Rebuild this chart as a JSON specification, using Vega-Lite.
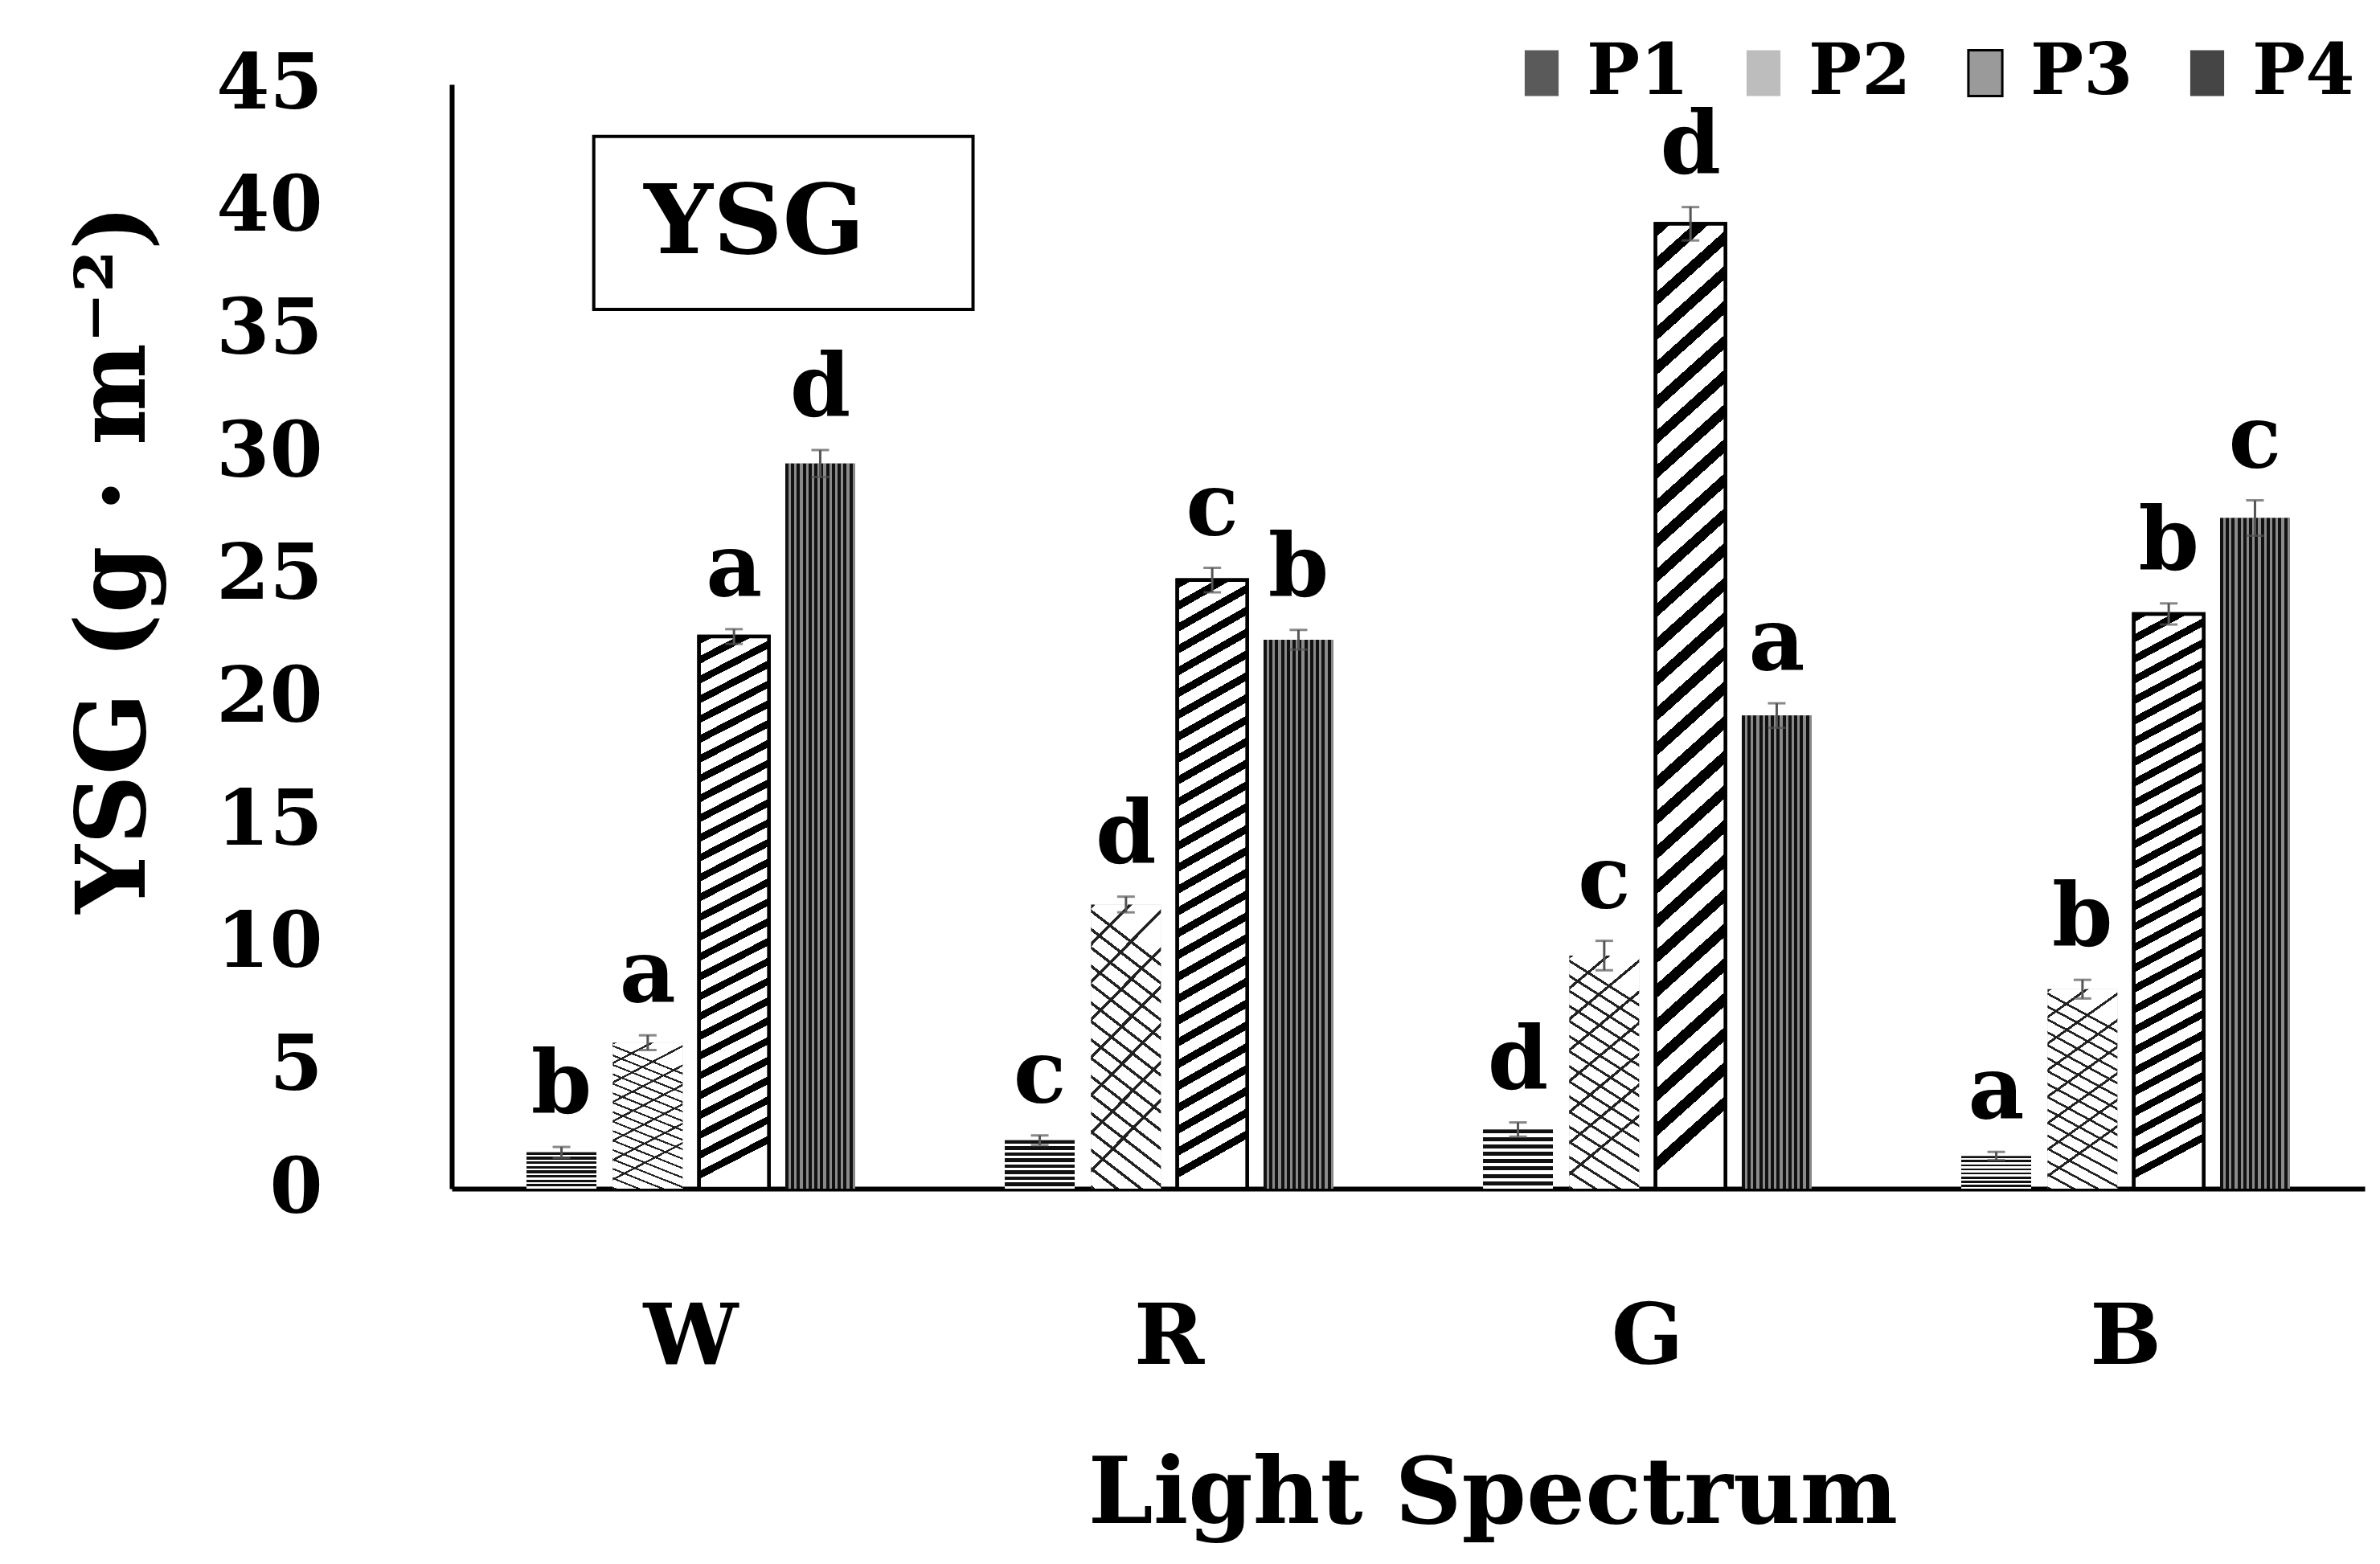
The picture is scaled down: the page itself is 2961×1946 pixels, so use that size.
{
  "$schema": "https://vega.github.io/schema/vega-lite/v6.json",
  "width": 2380,
  "height": 1374,
  "autosize": {"type": "none"},
  "padding": {"left": 562, "top": 105, "right": 19, "bottom": 467},
  "background": "#ffffff",
  "config": {
    "view": {"stroke": null},
    "font": "DejaVu Serif",
    "axis": {
      "labelFont": "DejaVu Serif", "labelFontWeight": "bold", "labelColor": "#000000",
      "titleFont": "DejaVu Serif", "titleFontWeight": "bold", "titleColor": "#000000",
      "domainColor": "#000000", "domainWidth": 6, "ticks": false, "tickSize": 0, "grid": false
    },
    "legend": {
      "labelFont": "DejaVu Serif", "labelFontWeight": "bold", "labelColor": "#000000"
    }
  },
  "data": {"values": [
    {"spectrum": "W", "P": "P1", "mean": 1.48, "lo": 1.26, "hi": 1.70, "letter": "b"},
    {"spectrum": "W", "P": "P2", "mean": 5.95, "lo": 5.65, "hi": 6.25, "letter": "a"},
    {"spectrum": "W", "P": "P3", "mean": 22.5, "lo": 22.2, "hi": 22.8, "letter": "a"},
    {"spectrum": "W", "P": "P4", "mean": 29.55, "lo": 29.0, "hi": 30.1, "letter": "d"},
    {"spectrum": "R", "P": "P1", "mean": 1.97, "lo": 1.77, "hi": 2.17, "letter": "c"},
    {"spectrum": "R", "P": "P2", "mean": 11.58, "lo": 11.26, "hi": 11.9, "letter": "d"},
    {"spectrum": "R", "P": "P3", "mean": 24.8, "lo": 24.3, "hi": 25.3, "letter": "c"},
    {"spectrum": "R", "P": "P4", "mean": 22.37, "lo": 21.97, "hi": 22.77, "letter": "b"},
    {"spectrum": "G", "P": "P1", "mean": 2.41, "lo": 2.12, "hi": 2.7, "letter": "d"},
    {"spectrum": "G", "P": "P2", "mean": 9.5, "lo": 8.9, "hi": 10.1, "letter": "c"},
    {"spectrum": "G", "P": "P3", "mean": 39.32, "lo": 38.64, "hi": 40.0, "letter": "d"},
    {"spectrum": "G", "P": "P4", "mean": 19.28, "lo": 18.78, "hi": 19.78, "letter": "a"},
    {"spectrum": "B", "P": "P1", "mean": 1.33, "lo": 1.16, "hi": 1.5, "letter": "a"},
    {"spectrum": "B", "P": "P2", "mean": 8.13, "lo": 7.75, "hi": 8.51, "letter": "b"},
    {"spectrum": "B", "P": "P3", "mean": 23.42, "lo": 22.99, "hi": 23.85, "letter": "b"},
    {"spectrum": "B", "P": "P4", "mean": 27.33, "lo": 26.61, "hi": 28.05, "letter": "c"}
  ]},
  "layer": [
    {
      "encoding": {
        "x": {
          "field": "spectrum", "type": "nominal", "sort": ["W", "R", "G", "B"],
          "scale": {"paddingInner": 0.27, "paddingOuter": 0.135},
          "axis": {
            "title": "Light Spectrum", "labelAngle": 0, "labelFontSize": 105, "labelPadding": 134,
            "titleFontSize": 115, "titleX": 1295, "titleY": 415, "titleBaseline": "alphabetic", "titleAlign": "center"
          }
        },
        "xOffset": {"field": "P", "type": "nominal", "sort": ["P1", "P2", "P3", "P4"], "scale": {"paddingInner": 0.19, "paddingOuter": 0.119}},
        "y": {
          "field": "mean", "type": "quantitative",
          "scale": {"domain": [0, 45], "nice": false, "zero": true},
          "axis": {
            "title": "YSG (g · m⁻²)", "values": [0, 5, 10, 15, 20, 25, 30, 35, 40, 45],
            "labelFontSize": 95, "labelPadding": 161, "labelFlush": false, "labelOverlap": false,
            "titleFontSize": 120, "titleX": -383, "titleY": 590, "titleAngle": -90,
            "titleBaseline": "alphabetic", "titleAlign": "center"
          }
        }
      },
      "layer": [
        {
          "mark": {"type": "bar", "strokeWidth": 4.5},
          "encoding": {
            "fill": {
              "field": "P", "type": "nominal",
              "scale": {"domain": ["P1", "P2", "P3", "P4"], "range": ["#5a5a5a", "#bdbdbd", "#9a9a9a", "#454545"]},
              "legend": {
                "title": null, "orient": "none", "legendX": 1312, "legendY": -58, "direction": "horizontal",
                "labelFontSize": 88, "symbolType": "M-0.74,-1H0.74V1H-0.74Z", "symbolSize": 3249,
                "labelOffset": 12, "columnPadding": 48, "symbolStrokeWidth": 3, "symbolOpacity": 1
              }
            },
            "stroke": {
              "field": "P", "type": "nominal",
              "scale": {"domain": ["P1", "P2", "P3", "P4"], "range": ["transparent", "transparent", "#000000", "transparent"]},
              "legend": {
                "title": null, "orient": "none", "legendX": 1312, "legendY": -58, "direction": "horizontal",
                "labelFontSize": 88, "symbolType": "M-0.74,-1H0.74V1H-0.74Z", "symbolSize": 3249,
                "labelOffset": 12, "columnPadding": 48, "symbolStrokeWidth": 3, "symbolOpacity": 1
              }
            }
          }
        },
        {
          "transform": [{"filter": "datum.P == 'P1'"}],
          "mark": {"type": "bar", "fill": {"gradient": "linear", "x1": 0, "y1": 0, "x2": 0, "y2": 1, "stops": [
            {"offset": 0, "color": "#111111"}, {"offset": 0.069, "color": "#111111"}, {"offset": 0.069, "color": "#ffffff"}, {"offset": 0.125, "color": "#ffffff"},
            {"offset": 0.125, "color": "#111111"}, {"offset": 0.194, "color": "#111111"}, {"offset": 0.194, "color": "#ffffff"}, {"offset": 0.25, "color": "#ffffff"},
            {"offset": 0.25, "color": "#111111"}, {"offset": 0.319, "color": "#111111"}, {"offset": 0.319, "color": "#ffffff"}, {"offset": 0.375, "color": "#ffffff"},
            {"offset": 0.375, "color": "#111111"}, {"offset": 0.444, "color": "#111111"}, {"offset": 0.444, "color": "#ffffff"}, {"offset": 0.5, "color": "#ffffff"},
            {"offset": 0.5, "color": "#111111"}, {"offset": 0.569, "color": "#111111"}, {"offset": 0.569, "color": "#ffffff"}, {"offset": 0.625, "color": "#ffffff"},
            {"offset": 0.625, "color": "#111111"}, {"offset": 0.694, "color": "#111111"}, {"offset": 0.694, "color": "#ffffff"}, {"offset": 0.75, "color": "#ffffff"},
            {"offset": 0.75, "color": "#111111"}, {"offset": 0.819, "color": "#111111"}, {"offset": 0.819, "color": "#ffffff"}, {"offset": 0.875, "color": "#ffffff"},
            {"offset": 0.875, "color": "#111111"}, {"offset": 0.944, "color": "#111111"}, {"offset": 0.944, "color": "#ffffff"}, {"offset": 1, "color": "#ffffff"}
          ]}}
        },
        {
          "transform": [{"filter": "datum.P == 'P2'"}],
          "mark": {"type": "bar", "fill": {"gradient": "linear", "x1": 0, "y1": 1, "x2": 0.19, "y2": 0, "stops": [
            {"offset": 0, "color": "#222222"}, {"offset": 0.012, "color": "#222222"}, {"offset": 0.012, "color": "#ffffff"}, {"offset": 0.0625, "color": "#ffffff"},
            {"offset": 0.0625, "color": "#222222"}, {"offset": 0.0745, "color": "#222222"}, {"offset": 0.0745, "color": "#ffffff"}, {"offset": 0.125, "color": "#ffffff"},
            {"offset": 0.125, "color": "#222222"}, {"offset": 0.137, "color": "#222222"}, {"offset": 0.137, "color": "#ffffff"}, {"offset": 0.1875, "color": "#ffffff"},
            {"offset": 0.1875, "color": "#222222"}, {"offset": 0.1995, "color": "#222222"}, {"offset": 0.1995, "color": "#ffffff"}, {"offset": 0.25, "color": "#ffffff"},
            {"offset": 0.25, "color": "#222222"}, {"offset": 0.262, "color": "#222222"}, {"offset": 0.262, "color": "#ffffff"}, {"offset": 0.3125, "color": "#ffffff"},
            {"offset": 0.3125, "color": "#222222"}, {"offset": 0.3245, "color": "#222222"}, {"offset": 0.3245, "color": "#ffffff"}, {"offset": 0.375, "color": "#ffffff"},
            {"offset": 0.375, "color": "#222222"}, {"offset": 0.387, "color": "#222222"}, {"offset": 0.387, "color": "#ffffff"}, {"offset": 0.4375, "color": "#ffffff"},
            {"offset": 0.4375, "color": "#222222"}, {"offset": 0.4495, "color": "#222222"}, {"offset": 0.4495, "color": "#ffffff"}, {"offset": 0.5, "color": "#ffffff"},
            {"offset": 0.5, "color": "#222222"}, {"offset": 0.512, "color": "#222222"}, {"offset": 0.512, "color": "#ffffff"}, {"offset": 0.5625, "color": "#ffffff"},
            {"offset": 0.5625, "color": "#222222"}, {"offset": 0.5745, "color": "#222222"}, {"offset": 0.5745, "color": "#ffffff"}, {"offset": 0.625, "color": "#ffffff"},
            {"offset": 0.625, "color": "#222222"}, {"offset": 0.637, "color": "#222222"}, {"offset": 0.637, "color": "#ffffff"}, {"offset": 0.6875, "color": "#ffffff"},
            {"offset": 0.6875, "color": "#222222"}, {"offset": 0.6995, "color": "#222222"}, {"offset": 0.6995, "color": "#ffffff"}, {"offset": 0.75, "color": "#ffffff"},
            {"offset": 0.75, "color": "#222222"}, {"offset": 0.762, "color": "#222222"}, {"offset": 0.762, "color": "#ffffff"}, {"offset": 0.8125, "color": "#ffffff"},
            {"offset": 0.8125, "color": "#222222"}, {"offset": 0.8245, "color": "#222222"}, {"offset": 0.8245, "color": "#ffffff"}, {"offset": 0.875, "color": "#ffffff"},
            {"offset": 0.875, "color": "#222222"}, {"offset": 0.887, "color": "#222222"}, {"offset": 0.887, "color": "#ffffff"}, {"offset": 0.9375, "color": "#ffffff"},
            {"offset": 0.9375, "color": "#222222"}, {"offset": 0.9495, "color": "#222222"}, {"offset": 0.9495, "color": "#ffffff"}, {"offset": 1, "color": "#ffffff"}
          ]}}
        },
        {
          "transform": [{"filter": "datum.P == 'P2'"}],
          "mark": {"type": "bar", "fill": {"gradient": "linear", "x1": 0, "y1": 0, "x2": 0.25, "y2": 1, "stops": [
            {"offset": 0, "color": "rgba(34,34,34,1)"}, {"offset": 0.014, "color": "rgba(34,34,34,1)"}, {"offset": 0.014, "color": "rgba(255,255,255,0)"}, {"offset": 0.125, "color": "rgba(255,255,255,0)"},
            {"offset": 0.125, "color": "rgba(34,34,34,1)"}, {"offset": 0.139, "color": "rgba(34,34,34,1)"}, {"offset": 0.139, "color": "rgba(255,255,255,0)"}, {"offset": 0.25, "color": "rgba(255,255,255,0)"},
            {"offset": 0.25, "color": "rgba(34,34,34,1)"}, {"offset": 0.264, "color": "rgba(34,34,34,1)"}, {"offset": 0.264, "color": "rgba(255,255,255,0)"}, {"offset": 0.375, "color": "rgba(255,255,255,0)"},
            {"offset": 0.375, "color": "rgba(34,34,34,1)"}, {"offset": 0.389, "color": "rgba(34,34,34,1)"}, {"offset": 0.389, "color": "rgba(255,255,255,0)"}, {"offset": 0.5, "color": "rgba(255,255,255,0)"},
            {"offset": 0.5, "color": "rgba(34,34,34,1)"}, {"offset": 0.514, "color": "rgba(34,34,34,1)"}, {"offset": 0.514, "color": "rgba(255,255,255,0)"}, {"offset": 0.625, "color": "rgba(255,255,255,0)"},
            {"offset": 0.625, "color": "rgba(34,34,34,1)"}, {"offset": 0.639, "color": "rgba(34,34,34,1)"}, {"offset": 0.639, "color": "rgba(255,255,255,0)"}, {"offset": 0.75, "color": "rgba(255,255,255,0)"},
            {"offset": 0.75, "color": "rgba(34,34,34,1)"}, {"offset": 0.764, "color": "rgba(34,34,34,1)"}, {"offset": 0.764, "color": "rgba(255,255,255,0)"}, {"offset": 0.875, "color": "rgba(255,255,255,0)"},
            {"offset": 0.875, "color": "rgba(34,34,34,1)"}, {"offset": 0.889, "color": "rgba(34,34,34,1)"}, {"offset": 0.889, "color": "rgba(255,255,255,0)"}, {"offset": 1, "color": "rgba(255,255,255,0)"}
          ]}}
        },
        {
          "transform": [{"filter": "datum.P == 'P3'"}],
          "mark": {"type": "bar", "stroke": "#000000", "strokeWidth": 4.5, "fill": {"gradient": "linear", "x1": 0, "y1": 0, "x2": 0.065, "y2": 1, "stops": [
            {"offset": 0, "color": "#000000"}, {"offset": 0.0143, "color": "#000000"}, {"offset": 0.0143, "color": "#ffffff"}, {"offset": 0.0357, "color": "#ffffff"},
            {"offset": 0.0357, "color": "#000000"}, {"offset": 0.05, "color": "#000000"}, {"offset": 0.05, "color": "#ffffff"}, {"offset": 0.0714, "color": "#ffffff"},
            {"offset": 0.0714, "color": "#000000"}, {"offset": 0.0857, "color": "#000000"}, {"offset": 0.0857, "color": "#ffffff"}, {"offset": 0.1071, "color": "#ffffff"},
            {"offset": 0.1071, "color": "#000000"}, {"offset": 0.1214, "color": "#000000"}, {"offset": 0.1214, "color": "#ffffff"}, {"offset": 0.1429, "color": "#ffffff"},
            {"offset": 0.1429, "color": "#000000"}, {"offset": 0.1571, "color": "#000000"}, {"offset": 0.1571, "color": "#ffffff"}, {"offset": 0.1786, "color": "#ffffff"},
            {"offset": 0.1786, "color": "#000000"}, {"offset": 0.1929, "color": "#000000"}, {"offset": 0.1929, "color": "#ffffff"}, {"offset": 0.2143, "color": "#ffffff"},
            {"offset": 0.2143, "color": "#000000"}, {"offset": 0.2286, "color": "#000000"}, {"offset": 0.2286, "color": "#ffffff"}, {"offset": 0.25, "color": "#ffffff"},
            {"offset": 0.25, "color": "#000000"}, {"offset": 0.2643, "color": "#000000"}, {"offset": 0.2643, "color": "#ffffff"}, {"offset": 0.2857, "color": "#ffffff"},
            {"offset": 0.2857, "color": "#000000"}, {"offset": 0.3, "color": "#000000"}, {"offset": 0.3, "color": "#ffffff"}, {"offset": 0.3214, "color": "#ffffff"},
            {"offset": 0.3214, "color": "#000000"}, {"offset": 0.3357, "color": "#000000"}, {"offset": 0.3357, "color": "#ffffff"}, {"offset": 0.3571, "color": "#ffffff"},
            {"offset": 0.3571, "color": "#000000"}, {"offset": 0.3714, "color": "#000000"}, {"offset": 0.3714, "color": "#ffffff"}, {"offset": 0.3929, "color": "#ffffff"},
            {"offset": 0.3929, "color": "#000000"}, {"offset": 0.4071, "color": "#000000"}, {"offset": 0.4071, "color": "#ffffff"}, {"offset": 0.4286, "color": "#ffffff"},
            {"offset": 0.4286, "color": "#000000"}, {"offset": 0.4429, "color": "#000000"}, {"offset": 0.4429, "color": "#ffffff"}, {"offset": 0.4643, "color": "#ffffff"},
            {"offset": 0.4643, "color": "#000000"}, {"offset": 0.4786, "color": "#000000"}, {"offset": 0.4786, "color": "#ffffff"}, {"offset": 0.5, "color": "#ffffff"},
            {"offset": 0.5, "color": "#000000"}, {"offset": 0.5143, "color": "#000000"}, {"offset": 0.5143, "color": "#ffffff"}, {"offset": 0.5357, "color": "#ffffff"},
            {"offset": 0.5357, "color": "#000000"}, {"offset": 0.55, "color": "#000000"}, {"offset": 0.55, "color": "#ffffff"}, {"offset": 0.5714, "color": "#ffffff"},
            {"offset": 0.5714, "color": "#000000"}, {"offset": 0.5857, "color": "#000000"}, {"offset": 0.5857, "color": "#ffffff"}, {"offset": 0.6071, "color": "#ffffff"},
            {"offset": 0.6071, "color": "#000000"}, {"offset": 0.6214, "color": "#000000"}, {"offset": 0.6214, "color": "#ffffff"}, {"offset": 0.6429, "color": "#ffffff"},
            {"offset": 0.6429, "color": "#000000"}, {"offset": 0.6571, "color": "#000000"}, {"offset": 0.6571, "color": "#ffffff"}, {"offset": 0.6786, "color": "#ffffff"},
            {"offset": 0.6786, "color": "#000000"}, {"offset": 0.6929, "color": "#000000"}, {"offset": 0.6929, "color": "#ffffff"}, {"offset": 0.7143, "color": "#ffffff"},
            {"offset": 0.7143, "color": "#000000"}, {"offset": 0.7286, "color": "#000000"}, {"offset": 0.7286, "color": "#ffffff"}, {"offset": 0.75, "color": "#ffffff"},
            {"offset": 0.75, "color": "#000000"}, {"offset": 0.7643, "color": "#000000"}, {"offset": 0.7643, "color": "#ffffff"}, {"offset": 0.7857, "color": "#ffffff"},
            {"offset": 0.7857, "color": "#000000"}, {"offset": 0.8, "color": "#000000"}, {"offset": 0.8, "color": "#ffffff"}, {"offset": 0.8214, "color": "#ffffff"},
            {"offset": 0.8214, "color": "#000000"}, {"offset": 0.8357, "color": "#000000"}, {"offset": 0.8357, "color": "#ffffff"}, {"offset": 0.8571, "color": "#ffffff"},
            {"offset": 0.8571, "color": "#000000"}, {"offset": 0.8714, "color": "#000000"}, {"offset": 0.8714, "color": "#ffffff"}, {"offset": 0.8929, "color": "#ffffff"},
            {"offset": 0.8929, "color": "#000000"}, {"offset": 0.9071, "color": "#000000"}, {"offset": 0.9071, "color": "#ffffff"}, {"offset": 0.9286, "color": "#ffffff"},
            {"offset": 0.9286, "color": "#000000"}, {"offset": 0.9429, "color": "#000000"}, {"offset": 0.9429, "color": "#ffffff"}, {"offset": 0.9643, "color": "#ffffff"},
            {"offset": 0.9643, "color": "#000000"}, {"offset": 0.9786, "color": "#000000"}, {"offset": 0.9786, "color": "#ffffff"}, {"offset": 1, "color": "#ffffff"}
          ]}}
        },
        {
          "transform": [{"filter": "datum.P == 'P4'"}],
          "mark": {"type": "bar", "fill": {"gradient": "linear", "x1": 0, "y1": 0, "x2": 1, "y2": 0, "stops": [
            {"offset": 0, "color": "#111111"}, {"offset": 0.0458, "color": "#111111"}, {"offset": 0.0458, "color": "#8a8a8a"}, {"offset": 0.0833, "color": "#8a8a8a"},
            {"offset": 0.0833, "color": "#111111"}, {"offset": 0.1292, "color": "#111111"}, {"offset": 0.1292, "color": "#8a8a8a"}, {"offset": 0.1667, "color": "#8a8a8a"},
            {"offset": 0.1667, "color": "#111111"}, {"offset": 0.2125, "color": "#111111"}, {"offset": 0.2125, "color": "#8a8a8a"}, {"offset": 0.25, "color": "#8a8a8a"},
            {"offset": 0.25, "color": "#111111"}, {"offset": 0.2958, "color": "#111111"}, {"offset": 0.2958, "color": "#8a8a8a"}, {"offset": 0.3333, "color": "#8a8a8a"},
            {"offset": 0.3333, "color": "#111111"}, {"offset": 0.3792, "color": "#111111"}, {"offset": 0.3792, "color": "#8a8a8a"}, {"offset": 0.4167, "color": "#8a8a8a"},
            {"offset": 0.4167, "color": "#111111"}, {"offset": 0.4625, "color": "#111111"}, {"offset": 0.4625, "color": "#8a8a8a"}, {"offset": 0.5, "color": "#8a8a8a"},
            {"offset": 0.5, "color": "#111111"}, {"offset": 0.5458, "color": "#111111"}, {"offset": 0.5458, "color": "#8a8a8a"}, {"offset": 0.5833, "color": "#8a8a8a"},
            {"offset": 0.5833, "color": "#111111"}, {"offset": 0.6292, "color": "#111111"}, {"offset": 0.6292, "color": "#8a8a8a"}, {"offset": 0.6667, "color": "#8a8a8a"},
            {"offset": 0.6667, "color": "#111111"}, {"offset": 0.7125, "color": "#111111"}, {"offset": 0.7125, "color": "#8a8a8a"}, {"offset": 0.75, "color": "#8a8a8a"},
            {"offset": 0.75, "color": "#111111"}, {"offset": 0.7958, "color": "#111111"}, {"offset": 0.7958, "color": "#8a8a8a"}, {"offset": 0.8333, "color": "#8a8a8a"},
            {"offset": 0.8333, "color": "#111111"}, {"offset": 0.8792, "color": "#111111"}, {"offset": 0.8792, "color": "#8a8a8a"}, {"offset": 0.9167, "color": "#8a8a8a"},
            {"offset": 0.9167, "color": "#111111"}, {"offset": 0.9625, "color": "#111111"}, {"offset": 0.9625, "color": "#8a8a8a"}, {"offset": 1, "color": "#8a8a8a"}
          ]}}
        },
        {
          "mark": {"type": "rule", "color": "#555555", "strokeWidth": 3},
          "encoding": {
            "y": {"field": "lo", "type": "quantitative"},
            "y2": {"field": "hi"}
          }
        },
        {
          "mark": {"type": "tick", "orient": "horizontal", "color": "#555555", "size": 22, "thickness": 3},
          "encoding": {"y": {"field": "hi", "type": "quantitative"}}
        },
        {
          "mark": {"type": "tick", "orient": "horizontal", "color": "#555555", "size": 22, "thickness": 3},
          "encoding": {"y": {"field": "lo", "type": "quantitative"}}
        },
        {
          "mark": {"type": "text", "font": "DejaVu Serif", "fontWeight": "bold", "fontSize": 108, "baseline": "alphabetic", "align": "center", "dy": -42, "color": "#000000"},
          "encoding": {
            "y": {"field": "hi", "type": "quantitative"},
            "text": {"field": "letter"}
          }
        }
      ]
    },
    {
      "data": {"values": [{"label": "YSG"}]},
      "layer": [
        {
          "mark": {"type": "rect", "fill": "#ffffff", "fillOpacity": 0, "stroke": "#000000", "strokeWidth": 4},
          "encoding": {
            "x": {"datum": 0.297, "type": "quantitative", "scale": {"domain": [0, 4], "nice": false, "zero": false}, "axis": null},
            "x2": {"datum": 1.09},
            "y": {"datum": 42.88, "type": "quantitative"},
            "y2": {"datum": 35.83}
          }
        },
        {
          "mark": {"type": "text", "font": "DejaVu Serif", "fontWeight": "bold", "fontSize": 120, "baseline": "alphabetic", "align": "center", "color": "#000000"},
          "encoding": {
            "x": {"datum": 0.633, "type": "quantitative", "scale": {"domain": [0, 4], "nice": false, "zero": false}, "axis": null},
            "y": {"datum": 38.13, "type": "quantitative"},
            "text": {"field": "label"}
          }
        }
      ]
    }
  ],
  "resolve": {"scale": {"x": "independent"}}
}
